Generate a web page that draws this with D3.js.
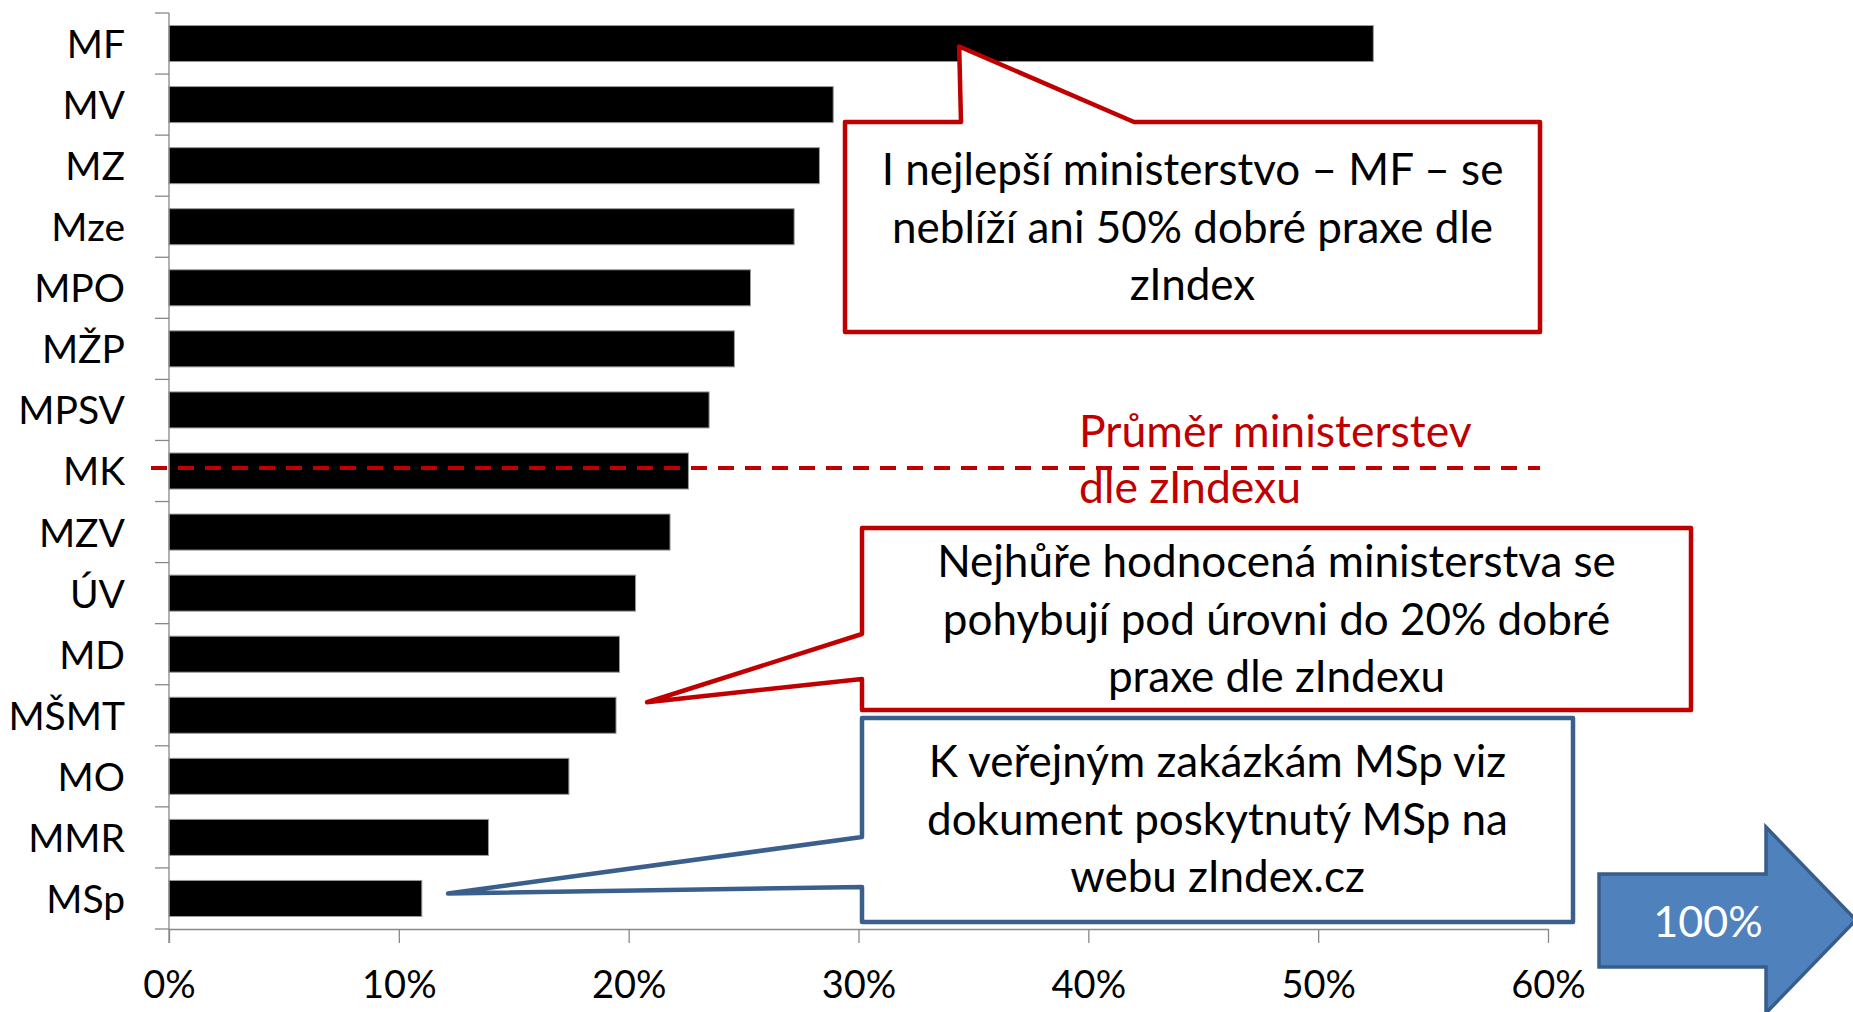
<!DOCTYPE html>
<html>
<head>
<meta charset="utf-8">
<script src="https://cdn.jsdelivr.net/npm/d3@7"></script>
<style>
  body { margin: 0; background: #fff; }
  svg text { font-family: Lato, "Open Sans", sans-serif; }
</style>
</head>
<body>
<div id="VizBox"></div>
<script>
// ministries, top to bottom
var categories = ["MF", "MV", "MZ", "Mze", "MPO", "MŽP", "MPSV", "MK", "MZV", "ÚV", "MD", "MŠMT", "MO", "MMR", "MSp"];
// share of good practice (zIndex)
var values = [0.524, 0.289, 0.283, 0.272, 0.253, 0.246, 0.235, 0.226, 0.218, 0.203, 0.196, 0.1945, 0.174, 0.139, 0.110];
var xTicks = [0, 0.1, 0.2, 0.3, 0.4, 0.5, 0.6];

var avgLabel = ["Průměr ministerstev", "dle zIndexu"];
var note1 = ["I nejlepší ministerstvo – MF – se", "neblíží ani 50% dobré praxe dle", "zIndex"];
var note2 = ["Nejhůře hodnocená ministerstva se", "pohybují pod úrovni do 20% dobré", "praxe dle zIndexu"];
var note3 = ["K veřejným zakázkám MSp viz", "dokument poskytnutý MSp na", "webu zIndex.cz"];
var arrowLabel = "100%";

var width = 1853, height = 1012;
var red = "#C00000", blue = "#3B5F8C";

var svg = d3.select("#VizBox")
  .append("svg")
    .attr("width", width)
    .attr("height", height);

// scales
var x = d3.scaleLinear()
  .domain([0, 0.6])
  .range([169, 1548]);

var y = d3.scaleBand()
  .domain(categories)
  .range([13, 929])
  .paddingInner(0.41)
  .paddingOuter(0.205);

var data = categories.map(function(c, i) { return {name: c, value: values[i]}; });

// bars
svg.selectAll("rect.bar")
  .data(data)
  .enter()
  .append("rect")
    .attr("class", "bar")
    .attr("x", x(0))
    .attr("y", function(d) { return y(d.name); })
    .attr("width", function(d) { return x(d.value) - x(0); })
    .attr("height", y.bandwidth())
    .attr("fill", "#000")
    .attr("stroke", "#9a9a9a")
    .attr("stroke-width", 1);

// y axis (labels only, ticks between categories drawn below)
var yAxis = svg.append("g")
  .attr("transform", "translate(" + x(0) + ",0)")
  .call(d3.axisLeft(y).tickSize(0).tickPadding(44));
yAxis.select(".domain").remove();
yAxis.selectAll("text")
  .attr("font-size", 39)
  .attr("fill", "#000")
  .attr("dy", "0.37em");

var step = y.step();
var yTickPos = d3.range(categories.length + 1).map(function(i) { return 13 + i * step; });
svg.append("g").selectAll("line")
  .data(yTickPos)
  .enter()
  .append("line")
    .attr("x1", x(0) - 14)
    .attr("x2", x(0))
    .attr("y1", function(d) { return d; })
    .attr("y2", function(d) { return d; })
    .attr("stroke", "#888")
    .attr("stroke-width", 1.3);

svg.append("line")
  .attr("x1", x(0)).attr("x2", x(0))
  .attr("y1", 13).attr("y2", 943)
  .attr("stroke", "#888")
  .attr("stroke-width", 1.3);

// x axis
var xAxis = svg.append("g")
  .attr("transform", "translate(0,929)")
  .call(d3.axisBottom(x).tickValues(xTicks).tickFormat(d3.format(".0%")).tickSize(14).tickSizeOuter(0));
xAxis.select(".domain").attr("stroke", "#888").attr("stroke-width", 1.3);
xAxis.selectAll(".tick line").attr("stroke", "#888").attr("stroke-width", 1.3);
xAxis.selectAll("text")
  .attr("font-size", 38)
  .attr("fill", "#000")
  .attr("y", 69)
  .attr("dy", 0);

// average line
var avgY = y("MK") + y.bandwidth() / 2 - 3;
svg.append("line")
  .attr("x1", 151).attr("x2", 1540)
  .attr("y1", avgY).attr("y2", avgY)
  .attr("stroke", red)
  .attr("stroke-width", 4)
  .attr("stroke-dasharray", "16,11");

svg.append("g").selectAll("text")
  .data(avgLabel)
  .enter()
  .append("text")
    .attr("x", 1079)
    .attr("y", function(d, i) { return 447 + i * 56; })
    .attr("font-size", 44.5)
    .attr("fill", red)
    .text(function(d) { return d; });

// callouts
function callout(box, ptr, color, lines, baseline0) {
  var p = d3.path();
  if (ptr.edge == "top") {
    p.moveTo(box.x0, box.y0);
    p.lineTo(ptr.a, box.y0);
    p.lineTo(ptr.tx, ptr.ty);
    p.lineTo(ptr.b, box.y0);
    p.lineTo(box.x1, box.y0);
    p.lineTo(box.x1, box.y1);
    p.lineTo(box.x0, box.y1);
    p.closePath();
  } else {
    p.moveTo(box.x0, box.y0);
    p.lineTo(box.x1, box.y0);
    p.lineTo(box.x1, box.y1);
    p.lineTo(box.x0, box.y1);
    p.lineTo(box.x0, ptr.b);
    p.lineTo(ptr.tx, ptr.ty);
    p.lineTo(box.x0, ptr.a);
    p.closePath();
  }
  svg.append("path")
    .attr("d", p.toString())
    .attr("fill", "#fff")
    .attr("stroke", color)
    .attr("stroke-width", 4.5)
    .attr("stroke-linejoin", "round");

  svg.append("g").selectAll("text")
    .data(lines)
    .enter()
    .append("text")
      .attr("x", (box.x0 + box.x1) / 2)
      .attr("y", function(d, i) { return baseline0 + i * 57.5; })
      .attr("text-anchor", "middle")
      .attr("font-size", 44)
      .attr("fill", "#000")
      .text(function(d) { return d; });
}

callout({x0: 845, y0: 122, x1: 1540, y1: 332},
  {edge: "top", a: 961, b: 1134, tx: x(0.3438), ty: y("MF") + 21}, red, note1, 185);

callout({x0: 862, y0: 528, x1: 1691, y1: 710},
  {edge: "left", a: 634, b: 679, tx: x(0.208), ty: y("MŠMT") + 5}, red, note2, 577);

callout({x0: 862, y0: 718, x1: 1573, y1: 922},
  {edge: "left", a: 837, b: 887, tx: x(0.1214), ty: y("MSp") + 13}, blue, note3, 777);

// block arrow
var arrow = [[1599, 874], [1766, 874], [1766, 827], [1856, 920], [1766, 1013], [1766, 967], [1599, 967]];
svg.append("path")
  .attr("d", d3.line()(arrow) + "Z")
  .attr("fill", "#4F81BD")
  .attr("stroke", "#385D8A")
  .attr("stroke-width", 3.5);

svg.append("text")
  .attr("x", 1708)
  .attr("y", 937)
  .attr("text-anchor", "middle")
  .attr("font-size", 43)
  .attr("fill", "#fff")
  .text(arrowLabel);
</script>
</body>
</html>
